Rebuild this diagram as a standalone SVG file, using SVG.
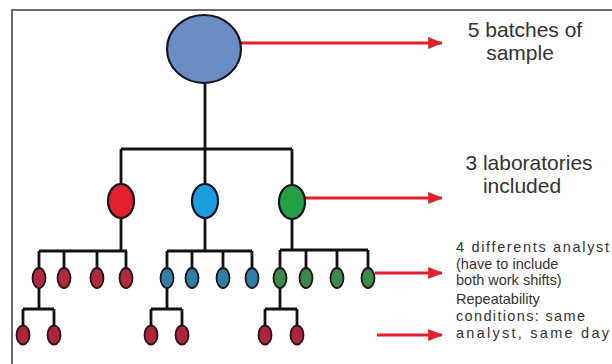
<svg xmlns="http://www.w3.org/2000/svg" width="612" height="364" viewBox="0 0 612 364">
  <defs>
    <marker id="ah" markerWidth="5" markerHeight="4" refX="4.6" refY="2" orient="auto" markerUnits="strokeWidth">
      <path d="M0,0 L5,2 L0,4 Z" fill="#e0202c"/>
    </marker>
    <style>
      .frame{fill:none;stroke:#6a6a6a;stroke-width:2}
      .wire{fill:none;stroke:#111;stroke-width:2.8;stroke-linejoin:miter}
      .arrow{fill:none;stroke:#e0202c;stroke-width:3;marker-end:url(#ah)}
      .node{stroke:#151520;stroke-width:2.2}
      .small{stroke:#221418;stroke-width:1.8}
      .big{font-family:"Liberation Sans",Arial,sans-serif;font-size:21px;fill:#333;text-anchor:middle}
      .lbl{font-family:"Liberation Sans",Arial,sans-serif;font-size:14.5px;fill:#333}
      .red{fill:#e3212d}.blue{fill:#1c9de0}.green{fill:#25a044}
      .ar{fill:#b02a40}.ab{fill:#2e7fa8}.ag{fill:#3b8a4a}.sr{fill:#b0243a}
    </style>
  </defs>
  <rect width="612" height="364" fill="#fff"/>
  <path class="frame" d="M614,10 H12 V366"/>

  <g id="connectors">
    <path class="wire" d="M205,83 V149 M121,149 H292 M121,149 V184 M205,149 V184 M292,149 V184"/>
    <path class="wire" d="M121,218 V251 M39,251 H127 M39,251 V268 M64,251 V268 M97,251 V268 M126,251 V268"/>
    <path class="wire" d="M205,218 V251 M167,251 H252 M167,251 V268 M192,251 V268 M223,251 V268 M252,251 V268"/>
    <path class="wire" d="M292,218 V250 M280,250 H368 M280,250 V268 M306,250 V268 M337,250 V268 M368,250 V268"/>
    <path class="wire" d="M39,288 V309 M23,309 H54 M23,309 V326 M54,309 V326"/>
    <path class="wire" d="M167,288 V309 M151,309 H182 M151,309 V326 M182,309 V326"/>
    <path class="wire" d="M280,288 V309 M265,309 H297 M265,309 V326 M297,309 V326"/>
    <path class="arrow" d="M241,43 H442"/>
    <path class="arrow" d="M305,198 H442"/>
    <path class="arrow" d="M375,273 H442"/>
    <path class="arrow" d="M377,335 H442"/>
  </g>

  <g id="batches"><ellipse class="node" cx="204" cy="49" rx="37" ry="34" fill="#6b8cc4"/></g>

  <g id="lab-red"><ellipse class="node red" cx="121" cy="201" rx="13" ry="17"/></g>
  <g id="lab-blue"><ellipse class="node blue" cx="205" cy="201" rx="13" ry="17"/></g>
  <g id="lab-green"><ellipse class="node green" cx="292" cy="202" rx="13" ry="17"/></g>

  <g id="analysts-red">
    <ellipse class="small ar" cx="39" cy="278" rx="6.5" ry="10"/>
    <ellipse class="small ar" cx="64" cy="278" rx="6.5" ry="10"/>
    <ellipse class="small ar" cx="97" cy="278" rx="6.5" ry="10"/>
    <ellipse class="small ar" cx="126" cy="278" rx="6.5" ry="10"/>
  </g>
  <g id="analysts-blue">
    <ellipse class="small ab" cx="167" cy="278" rx="6.5" ry="10"/>
    <ellipse class="small ab" cx="192" cy="278" rx="6.5" ry="10"/>
    <ellipse class="small ab" cx="223" cy="278" rx="6.5" ry="10"/>
    <ellipse class="small ab" cx="252" cy="278" rx="6.5" ry="10"/>
  </g>
  <g id="analysts-green">
    <ellipse class="small ag" cx="280" cy="278" rx="6.5" ry="10"/>
    <ellipse class="small ag" cx="306" cy="278" rx="6.5" ry="10"/>
    <ellipse class="small ag" cx="337" cy="278" rx="6.5" ry="10"/>
    <ellipse class="small ag" cx="368" cy="278" rx="6.5" ry="10"/>
  </g>
  <g id="reps-1">
    <ellipse class="small sr" cx="23" cy="335" rx="6.5" ry="9.5"/>
    <ellipse class="small sr" cx="54" cy="335" rx="6.5" ry="9.5"/>
  </g>
  <g id="reps-2">
    <ellipse class="small sr" cx="151" cy="335" rx="6.5" ry="9.5"/>
    <ellipse class="small sr" cx="182" cy="335" rx="6.5" ry="9.5"/>
  </g>
  <g id="reps-3">
    <ellipse class="small sr" cx="265" cy="335" rx="6.5" ry="9.5"/>
    <ellipse class="small sr" cx="297" cy="335" rx="6.5" ry="9.5"/>
  </g>

  <g id="label-batches">
    <text class="big" x="525" y="37">5 batches of</text>
    <text class="big" x="520" y="60">sample</text>
  </g>
  <g id="label-labs">
    <text class="big" x="529" y="170">3 laboratories</text>
    <text class="big" x="522" y="193">included</text>
  </g>
  <g id="label-analysts">
    <text class="lbl" x="456" y="252" textLength="153" lengthAdjust="spacing">4 differents analyst</text>
    <text class="lbl" x="456" y="269">(have to include</text>
    <text class="lbl" x="456" y="285">both work shifts)</text>
  </g>
  <g id="label-repeat">
    <text class="lbl" x="456" y="304">Repeatability</text>
    <text class="lbl" x="456" y="321" textLength="129" lengthAdjust="spacing">conditions: same</text>
    <text class="lbl" x="456" y="338" textLength="153" lengthAdjust="spacing">analyst, same day</text>
  </g>
</svg>
